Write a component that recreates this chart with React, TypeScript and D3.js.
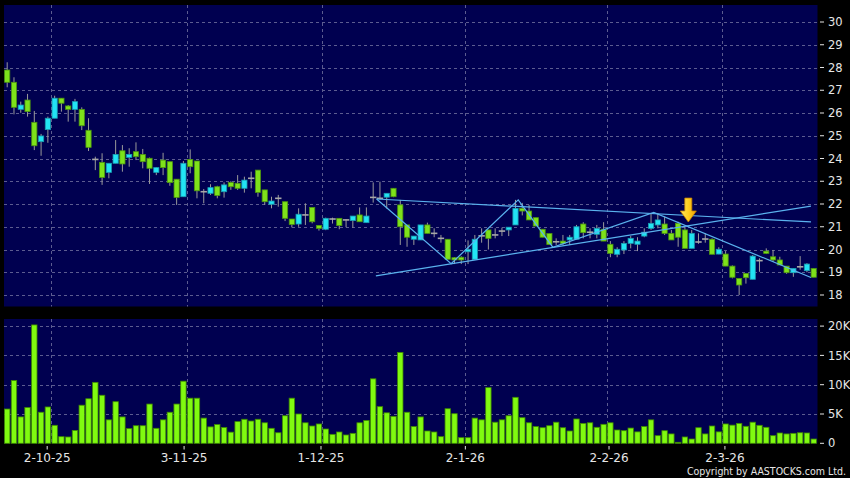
import React from 'react';
import * as d3 from 'd3';

// ---- Data ----
const opens = [27.89,27.35,26.16,26.57,25.59,24.74,25.27,25.77,26.65,26.31,26.16,26.16,25.24,23.96,23.83,23.39,23.79,24.34,24.05,24.30,24.18,24.01,23.39,23.93,23.86,23.09,22.32,23.96,23.89,22.54,22.47,22.76,22.54,22.95,22.91,22.69,23.13,23.49,22.62,21.99,22.25,22.10,21.34,21.12,21.52,21.85,21.06,20.89,21.34,21.37,21.30,21.27,21.52,21.18,22.29,22.25,22.30,22.69,21.96,21.08,20.45,20.42,21.08,20.71,20.49,20.45,19.64,19.66,19.90,19.57,20.60,20.86,20.64,20.81,20.86,21.08,21.81,21.69,21.40,20.89,20.70,20.34,20.37,20.42,20.45,21.12,20.76,20.67,20.89,20.23,19.79,19.98,20.27,20.23,20.59,20.93,21.08,21.12,20.71,21.15,20.86,20.05,20.33,20.46,20.45,19.80,19.80,19.27,18.73,18.95,18.69,19.51,19.93,19.68,19.54,19.27,18.98,19.24,19.07,19.17];
const highs = [28.23,27.57,26.50,26.84,26.09,25.08,25.84,26.76,26.65,26.35,26.62,26.25,25.77,24.08,24.23,23.79,24.81,24.59,24.45,24.71,24.42,24.04,23.62,24.25,23.86,23.09,23.89,24.40,23.89,22.66,22.87,22.80,22.95,23.00,23.27,23.20,23.42,23.49,22.62,22.32,22.40,22.10,21.34,21.81,22.03,21.85,21.06,21.40,21.40,21.37,21.33,21.47,21.85,21.85,22.95,22.98,22.47,22.69,22.18,21.08,20.59,21.08,21.18,20.93,20.64,20.45,19.66,19.70,20.40,20.64,20.93,20.86,20.93,20.96,20.98,22.18,22.05,21.96,21.40,20.89,20.70,20.49,20.64,20.64,21.08,21.20,20.93,21.08,21.20,20.37,20.10,20.37,20.59,20.54,20.93,21.59,21.59,21.45,20.86,21.22,21.00,20.86,20.71,20.71,20.49,20.10,19.93,19.30,18.73,18.95,19.76,19.61,20.05,19.98,19.68,19.27,19.17,19.71,19.40,19.17];
const lows = [27.13,25.94,26.01,25.84,24.37,24.12,24.69,25.77,26.06,25.62,25.62,25.25,24.33,23.49,22.84,23.13,23.79,23.42,23.64,23.93,23.57,22.88,23.27,23.27,22.80,21.96,22.32,23.35,22.25,22.03,22.40,22.25,22.28,22.62,22.62,22.50,22.69,22.32,21.96,21.81,21.88,21.25,20.97,21.00,21.08,21.15,20.83,20.85,21.14,20.89,20.98,20.96,21.22,21.18,22.06,22.20,21.80,22.30,20.20,20.12,20.20,20.42,20.71,20.54,20.30,19.57,19.36,19.36,19.36,19.57,20.30,20.00,20.49,20.59,20.59,21.08,21.50,21.30,21.03,20.54,20.22,20.20,20.20,20.20,20.45,20.49,20.49,20.49,20.37,19.66,19.66,19.80,20.05,19.93,20.54,20.86,20.93,20.64,20.42,20.12,20.05,20.05,20.25,20.30,19.79,19.79,19.27,18.73,18.00,18.50,18.69,19.02,19.80,19.45,19.32,18.93,18.80,19.11,19.00,18.78];
const closes = [27.35,26.25,26.35,26.06,24.56,24.99,25.77,26.65,26.43,26.16,26.50,25.44,24.49,23.96,23.17,23.79,24.18,23.76,24.18,24.08,23.86,23.57,23.60,23.60,22.94,22.29,23.79,23.64,22.58,22.54,22.72,22.37,22.84,22.76,22.69,23.05,23.13,22.51,22.10,22.13,22.25,21.37,21.10,21.55,21.52,21.22,20.93,21.37,21.34,21.05,21.30,21.47,21.22,21.47,22.29,22.25,22.47,22.32,21.00,20.54,20.59,21.08,20.71,20.71,20.49,19.57,19.54,19.54,20.01,20.45,20.60,20.49,20.64,20.81,20.98,21.81,21.69,21.30,21.03,20.54,20.22,20.34,20.27,20.54,21.00,20.74,20.76,20.93,20.37,19.83,20.01,20.27,20.49,20.37,20.76,21.15,21.30,20.71,20.42,20.54,20.05,20.71,20.33,20.46,19.79,20.01,19.27,18.78,18.44,18.76,19.71,19.51,19.83,19.54,19.32,18.98,19.17,19.24,19.36,18.78];
// volume in thousands
const volumes = [5.85,10.7,4.5,6.1,20.2,5.3,6.2,3.07,1.13,1.08,2.2,6.5,7.6,10.4,8.2,4.0,7.1,4.5,2.5,3.0,3.0,6.7,2.56,4.0,5.3,6.7,10.6,7.7,7.7,4.3,2.8,3.2,2.7,1.9,3.7,4.1,3.8,4.1,3.5,2.56,1.8,4.7,7.7,5.0,3.5,2.95,3.3,2.44,1.53,1.93,1.42,1.7,3.5,3.9,11.0,6.25,5.2,4.6,15.5,5.3,2.85,4.5,2.1,1.93,1.13,5.9,5.05,0.96,0.96,4.3,4.0,9.5,3.6,4.0,4.7,7.85,4.37,3.5,2.85,2.66,3.0,3.6,2.66,2.1,4.15,3.4,3.5,2.73,3.24,3.5,2.27,2.15,2.6,1.95,2.85,4.0,1.3,2.15,1.6,0.17,1.08,0.73,2.66,1.6,2.95,1.95,3.3,3.1,3.4,2.9,3.6,3.07,2.73,1.3,1.76,1.6,1.7,1.8,1.76,0.73];

const dateLabels = ['2-10-25', '3-11-25', '1-12-25', '2-1-26', '2-2-26', '2-3-26'];
const datePositions = [5.9, 26.1, 46.3, 67.6, 88.8, 105.9];
const priceTicks = [18, 19, 20, 21, 22, 23, 24, 25, 26, 27, 28, 29, 30];
const volumeTicks = [0, 5, 10, 15, 20];
const volumeTickLabels = ['0', '5K', '10K', '15K', '20K'];

// analysis lines (candle index, price)
const zigzagIdx = [54.5, 65.5, 75.4, 80.5, 95.4, 118.6];
const zigzagPrice = [22.22, 19.38, 22.18, 20.10, 21.63, 18.77];
const flatLineIdx = [54.5, 118.6];
const flatLinePrice = [22.22, 21.21];
const riseLineIdx = [54.4, 118.6];
const riseLinePrice = [18.84, 21.91];
const arrowIdx = 100.5;
const arrowTop = 22.26;
const arrowTip = 21.21;

const W = 850, H = 478;
const PANEL_L = 4, PANEL_R = 817.5;

export default function App() {
  const n = closes.length;
  const x = d3.scaleLinear().domain([0, n - 1]).range([7.2, 813.7]);
  const gridX = d3.scaleLinear().domain([0, n - 1]).range([11.6, 809.8]);
  const y = d3.scaleLinear().domain([18, 30]).range([295, 22]);
  const yv = d3.scaleLinear().domain([0, 20]).range([443.3, 326.1]);

  const line = d3.line<[number, number]>().x(d => x(d[0])).y(d => y(d[1]));
  const zig = line(zigzagIdx.map((v, i) => [v, zigzagPrice[i]]));
  const flat = line(flatLineIdx.map((v, i) => [v, flatLinePrice[i]]));
  const rise = line(riseLineIdx.map((v, i) => [v, riseLinePrice[i]]));

  const gridColor = '#5c5c90';
  const font = '"DejaVu Sans", Verdana, sans-serif';
  const textColor = '#e6e6e6';

  const ax = x(arrowIdx);
  const aTop = y(arrowTop);
  const aTip = y(arrowTip);
  const aNeck = aTop + (aTip - aTop) * 0.54;
  const arrowPath = `M${ax - 3.5},${aTop} L${ax + 3.5},${aTop} L${ax + 3.5},${aNeck} L${ax + 8},${aNeck} L${ax},${aTip} L${ax - 8},${aNeck} L${ax - 3.5},${aNeck} Z`;

  return (
    <div style={{ position: 'fixed', left: 0, top: 0 }}>
      <svg width={W} height={H} style={{ display: 'block' }}>
        <defs>
          <linearGradient id="arrowGrad" x1="0" x2="1" y1="0" y2="0">
            <stop offset="0" stopColor="#ffe860" />
            <stop offset="0.5" stopColor="#ffd020" />
            <stop offset="1" stopColor="#f0a000" />
          </linearGradient>
        </defs>
        <rect x={0} y={0} width={W} height={H} fill="#000" />
        {/* panels */}
        <rect x={PANEL_L} y={5} width={PANEL_R - PANEL_L} height={301.5} fill="#000050" />
        <rect x={PANEL_L} y={319} width={PANEL_R - PANEL_L} height={124.3} fill="#000050" />

        {/* price grid */}
        {priceTicks.map(p => (
          <line key={'hg' + p} x1={PANEL_L} x2={PANEL_R} y1={Math.round(y(p)) + 0.5} y2={Math.round(y(p)) + 0.5}
            stroke={gridColor} strokeDasharray="3,3" strokeWidth={1} />
        ))}
        {datePositions.map((d, i) => (
          <line key={'vg' + i} x1={Math.round(gridX(d)) + 0.5} x2={Math.round(gridX(d)) + 0.5} y1={5} y2={306.5}
            stroke={gridColor} strokeDasharray="3,3" strokeWidth={1} />
        ))}
        {/* volume grid */}
        {volumeTicks.slice(1).map(v => (
          <line key={'vhg' + v} x1={PANEL_L} x2={PANEL_R} y1={Math.round(yv(v)) + 0.5} y2={Math.round(yv(v)) + 0.5}
            stroke={gridColor} strokeDasharray="3,3" strokeWidth={1} />
        ))}
        {datePositions.map((d, i) => (
          <line key={'vvg' + i} x1={Math.round(gridX(d)) + 0.5} x2={Math.round(gridX(d)) + 0.5} y1={319} y2={443.3}
            stroke={gridColor} strokeDasharray="3,3" strokeWidth={1} />
        ))}

        {/* candles */}
        {closes.map((c, i) => {
          const o = opens[i];
          const cx = x(i);
          const up = c > o, down = c < o;
          const fill = up ? '#22e4f4' : down ? '#7ee21a' : '#a8a8a8';
          const stroke = up ? '#1a9cb0' : down ? '#4c9410' : '#a8a8a8';
          const top = y(Math.max(o, c));
          const bot = y(Math.min(o, c));
          return (
            <g key={'c' + i}>
              <line x1={cx} x2={cx} y1={y(highs[i])} y2={y(lows[i])} stroke="#9a9a9a" strokeWidth={1} />
              {up || down ? (
                <rect x={cx - 2.6} y={top} width={5.2} height={Math.max(bot - top, 1)} fill={fill} stroke={stroke} strokeWidth={0.8} />
              ) : (
                <line x1={cx - 3.2} x2={cx + 3.2} y1={top} y2={top} stroke={fill} strokeWidth={1.6} />
              )}
            </g>
          );
        })}

        {/* analysis lines */}
        <path d={flat || ''} fill="none" stroke="#5ab2ee" strokeWidth={1.2} />
        <path d={rise || ''} fill="none" stroke="#5ab2ee" strokeWidth={1.2} />
        <path d={zig || ''} fill="none" stroke="#5ab2ee" strokeWidth={1.2} />

        {/* arrow */}
        <path d={arrowPath} fill="url(#arrowGrad)" stroke="#c88400" strokeWidth={0.8} />

        {/* volume bars */}
        {volumes.map((v, i) => (
          <rect key={'v' + i} x={x(i) - 2.7} y={yv(v)} width={5.4} height={Math.max(yv(0) - yv(v), 0.5)}
            fill="#80fa10" stroke="#3f8a00" strokeWidth={0.8} />
        ))}

        {/* right axes */}
        {priceTicks.map(p => (
          <g key={'pl' + p}>
            <line x1={820} x2={824} y1={y(p)} y2={y(p)} stroke={textColor} strokeWidth={1} />
            <text x={828} y={y(p)} dy="0.36em" fill={textColor} fontSize={11.5} fontFamily={font}>{p}</text>
          </g>
        ))}
        {volumeTicks.map((v, i) => (
          <g key={'vl' + v}>
            <line x1={820} x2={824} y1={yv(v)} y2={yv(v)} stroke={textColor} strokeWidth={1} />
            <text x={828} y={yv(v)} dy="0.36em" fill={textColor} fontSize={11.5} fontFamily={font}>{volumeTickLabels[i]}</text>
          </g>
        ))}

        {/* date axis */}
        {datePositions.map((d, i) => (
          <g key={'dl' + i}>
            <line x1={x(d)} x2={x(d)} y1={446} y2={449.5} stroke={textColor} strokeWidth={1} />
            <text x={x(d)} y={462} textAnchor="middle" fill={textColor} fontSize={12} fontFamily={font}>{dateLabels[i]}</text>
          </g>
        ))}

        <text x={846} y={475} textAnchor="end" fill={textColor} fontSize={10.5}
          fontFamily={'"DejaVu Sans Condensed", "DejaVu Sans", sans-serif'} fontStretch="condensed">Copyright by AASTOCKS.com Ltd.</text>
      </svg>
    </div>
  );
}
